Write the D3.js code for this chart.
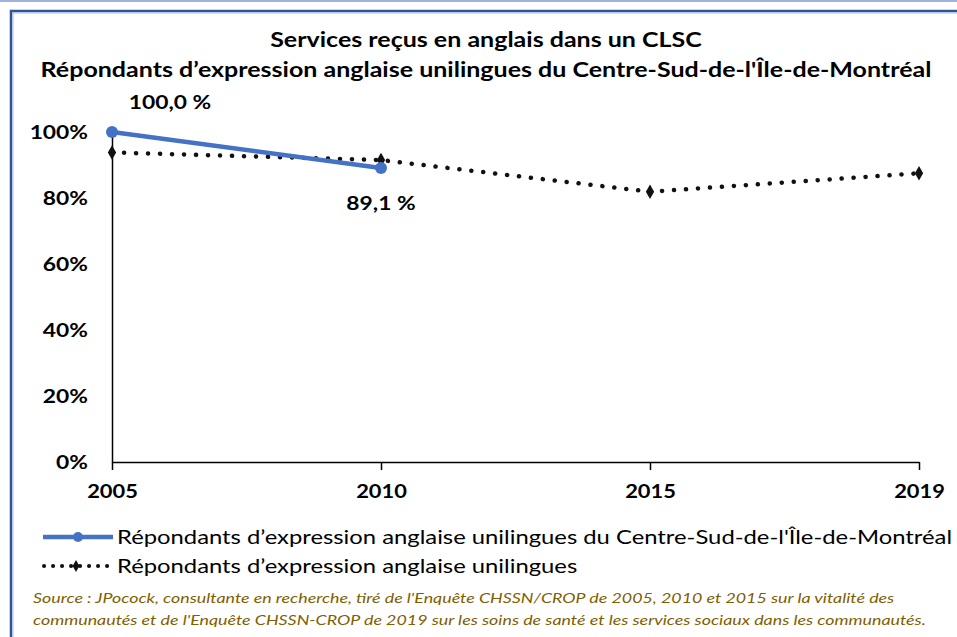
<!DOCTYPE html>
<html>
<head>
<meta charset="utf-8">
<script src="https://cdn.jsdelivr.net/npm/d3@7"></script>
<style>
  body { margin: 0; background: #fff; }
  svg { display: block; font-family: Lato, "Open Sans", sans-serif; }
</style>
</head>
<body>
<div id="chart"></div>
<script>
// chart data
var years = ["2005", "2010", "2015", "2019"];
var centreSud = [1.000, 0.891, null, null];
var unilingues = [0.938, 0.915, 0.819, 0.875];
var yTicks = [0, 0.2, 0.4, 0.6, 0.8, 1.0];
var titleLines = ["Services reçus en anglais  dans un CLSC",
	"Répondants d’expression anglaise unilingues du Centre-Sud-de-l'Île-de-Montréal"];
var legendNames = ["Répondants d’expression anglaise unilingues du Centre-Sud-de-l'Île-de-Montréal",
	"Répondants d’expression anglaise unilingues"];
var sourceLines = ["Source : JPocock, consultante en recherche, tiré de l'Enquête CHSSN/CROP de 2005, 2010 et 2015 sur la vitalité des",
	"communautés et de l'Enquête CHSSN-CROP de 2019 sur les soins de santé et les services sociaux dans les communautés."];

var W = 957, H = 637;
var blue = "#4472c4";

// stretch text horizontally (the original font is wide)
function stretch(sel, k) {
	sel.each(function() {
		var w = this.getComputedTextLength();
		d3.select(this).attr("textLength", w * k).attr("lengthAdjust", "spacingAndGlyphs");
	});
}

var svg = d3.select("#chart").append("svg")
	.attr("width", W)
	.attr("height", H);

// frame
svg.append("line").attr("x1", 0).attr("x2", W).attr("y1", 1).attr("y2", 1)
	.attr("stroke", "#9db3dc").attr("stroke-width", 2);
svg.append("path").attr("d", "M11," + H + "V11H" + W)
	.attr("fill", "none").attr("stroke", "#2f5597").attr("stroke-width", 2.5);
svg.append("path").attr("d", "M13," + H + "V13H" + W)
	.attr("fill", "none").attr("stroke", "#a9bde3").attr("stroke-width", 1);

// titles
svg.selectAll(".title")
	.data(titleLines)
  .enter().append("text")
	.attr("class", "title")
	.attr("x", 486)
	.attr("y", function(d, i) { return 47 + i * 30; })
	.attr("text-anchor", "middle")
	.attr("font-weight", "bold")
	.attr("font-size", "20px")
	.attr("fill", "#000")
	.text(function(d) { return d; })
	.call(stretch, 1.25);

var x = d3.scalePoint().domain(years).range([112, 919]),
	y = d3.scaleLinear().domain([0, 1]).range([462, 132]);

var g = svg.append("g");

// y axis: labels plus line
g.append("g")
	.attr("transform", "translate(112,0)")
	.call(d3.axisLeft(y).tickValues(yTicks).tickFormat(d3.format(".0%")).tickSize(0).tickPadding(24))
	.call(function(a) {
		a.select(".domain").attr("stroke", "#000").attr("stroke-width", 1.5);
		a.selectAll("text").attr("font-size", "19px").attr("font-weight", "bold")
			.attr("font-family", "Lato, sans-serif").attr("fill", "#000")
			.call(stretch, 1.2);
	});

// x axis
g.append("g")
	.attr("transform", "translate(0,462)")
	.call(d3.axisBottom(x).tickSizeInner(8).tickSizeOuter(0).tickPadding(15))
	.call(function(a) {
		a.select(".domain").attr("stroke", "#000").attr("stroke-width", 1.5);
		a.selectAll("line").attr("stroke", "#000").attr("stroke-width", 1.5);
		a.selectAll("text").attr("font-size", "19px").attr("font-weight", "bold")
			.attr("font-family", "Lato, sans-serif").attr("fill", "#000")
			.call(stretch, 1.15);
	});

// dotted series
var rowsU = years.map(function(yr, i) { return { year: yr, v: unilingues[i] }; });
var lineU = d3.line().x(function(d) { return x(d.year); }).y(function(d) { return y(d.v); });
g.append("path")
	.datum(rowsU)
	.attr("d", lineU)
	.attr("fill", "none")
	.attr("stroke", "#111")
	.attr("stroke-width", 4.5)
	.attr("stroke-linecap", "round")
	.attr("stroke-dasharray", "0.1 11.9");
g.selectAll(".mk-u")
	.data(rowsU)
  .enter().append("path")
	.attr("class", "mk-u")
	.attr("transform", function(d) { return "translate(" + x(d.year) + "," + y(d.v) + ")"; })
	.attr("d", d3.symbol().type(d3.symbolDiamond).size(60))
	.attr("fill", "#111");

// blue series
var rowsC = years.map(function(yr, i) { return { year: yr, v: centreSud[i] }; })
	.filter(function(d) { return d.v != null; });
g.append("path")
	.datum(rowsC)
	.attr("d", lineU)
	.attr("fill", "none")
	.attr("stroke", blue)
	.attr("stroke-width", 4.5)
	.attr("stroke-linecap", "round");
g.selectAll(".mk-c")
	.data(rowsC)
  .enter().append("circle")
	.attr("class", "mk-c")
	.attr("cx", function(d) { return x(d.year); })
	.attr("cy", function(d) { return y(d.v); })
	.attr("r", 6)
	.attr("fill", blue);

// data labels
var fmt = function(v) { return d3.format(".1f")(v * 100).replace(".", ",") + " %"; };
g.selectAll(".lbl")
	.data(rowsC)
  .enter().append("text")
	.attr("class", "lbl")
	.attr("x", function(d, i) { return x(d.year) + (i == 0 ? 58 : 0); })
	.attr("y", function(d, i) { return y(d.v) + (i == 0 ? -23 : 42); })
	.attr("text-anchor", "middle")
	.attr("font-size", "19px")
	.attr("font-weight", "bold")
	.text(function(d) { return fmt(d.v); })
	.call(stretch, 1.2);

// legend
var leg = svg.append("g");
leg.append("line").attr("x1", 43).attr("x2", 113).attr("y1", 537).attr("y2", 537)
	.attr("stroke", blue).attr("stroke-width", 4.5);
leg.append("circle").attr("cx", 78).attr("cy", 537).attr("r", 5).attr("fill", blue);
leg.append("line").attr("x1", 44).attr("x2", 108).attr("y1", 566).attr("y2", 566)
	.attr("stroke", "#111").attr("stroke-width", 4).attr("stroke-linecap", "round")
	.attr("stroke-dasharray", "0.1 8.9");
leg.append("path").attr("transform", "translate(76,566)")
	.attr("d", d3.symbol().type(d3.symbolDiamond).size(40)).attr("fill", "#111");
leg.selectAll(".legtxt")
	.data(legendNames)
  .enter().append("text")
	.attr("class", "legtxt")
	.attr("x", 117)
	.attr("y", function(d, i) { return 544 + i * 29; })
	.attr("font-size", "20px")
	.attr("fill", "#000")
	.text(function(d) { return d; })
	.call(stretch, 1.19);

// source
svg.selectAll(".src")
	.data(sourceLines)
  .enter().append("text")
	.attr("class", "src")
	.attr("x", 33)
	.attr("y", function(d, i) { return 603 + i * 22; })
	.attr("font-size", "13.5px")
	.attr("font-style", "italic")
	.attr("fill", "#7f6000")
	.text(function(d) { return d; })
	.call(stretch, 1.32);
</script>
</body>
</html>
